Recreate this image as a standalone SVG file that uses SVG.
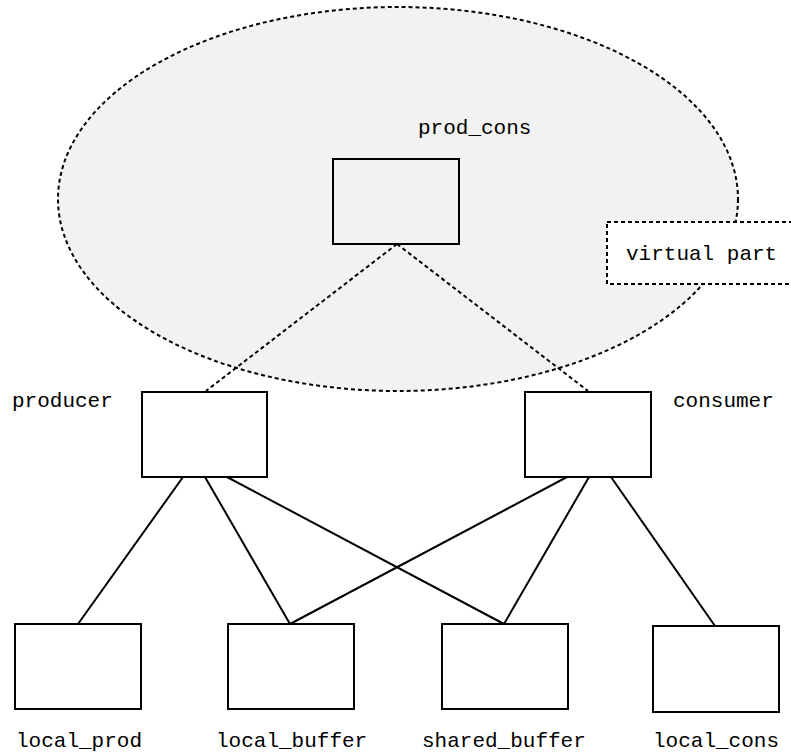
<svg xmlns="http://www.w3.org/2000/svg" width="791" height="754" viewBox="0 0 791 754">
<style>
.box{fill:#fff;stroke:#000;stroke-width:2}
.dash{fill:none;stroke:#000;stroke-width:2;stroke-dasharray:4 3}
.ln{stroke:#000;stroke-width:2;fill:none}
text{font-family:"Liberation Mono","Courier New",monospace;font-size:21px;fill:#000}
</style>
<rect width="791" height="754" fill="#fff"/>
<g id="virtual_region">
<ellipse cx="398" cy="199" rx="340" ry="192" fill="#f2f2f2" stroke="#000" stroke-width="2" stroke-dasharray="4 3"/>
</g>
<g id="connectors">
<line class="dash" x1="397" y1="244" x2="206" y2="391"/>
<line class="dash" x1="397" y1="244" x2="588" y2="391"/>
<line class="ln" x1="183" y1="477" x2="78" y2="624"/>
<line class="ln" x1="205" y1="477" x2="290" y2="624"/>
<line class="ln" x1="227" y1="477" x2="504" y2="624"/>
<line class="ln" x1="567" y1="477" x2="290" y2="624"/>
<line class="ln" x1="589" y1="477" x2="504" y2="624"/>
<line class="ln" x1="611" y1="477" x2="715" y2="626"/>
</g>
<g id="virtual_part">
<rect x="607" y="222" width="200" height="62" fill="#fff" stroke="#000" stroke-width="2" stroke-dasharray="4 3"/>
<text x="626" y="260">virtual part</text>
</g>
<g id="prod_cons">
<rect class="box" x="333" y="159" width="126" height="85" fill="#f2f2f2" style="fill:#f2f2f2"/>
<text x="418" y="134">prod_cons</text>
</g>
<g id="producer">
<rect class="box" x="142" y="392" width="125" height="85"/>
<text x="12" y="407">producer</text>
</g>
<g id="consumer">
<rect class="box" x="525" y="392" width="126" height="85"/>
<text x="673" y="407">consumer</text>
</g>
<g id="local_prod">
<rect class="box" x="15" y="624" width="126" height="85"/>
<text x="16" y="747">local_prod</text>
</g>
<g id="local_buffer">
<rect class="box" x="228" y="624" width="126" height="85"/>
<text x="216" y="747">local_buffer</text>
</g>
<g id="shared_buffer">
<rect class="box" x="442" y="624" width="126" height="85"/>
<text x="422" y="747">shared_buffer</text>
</g>
<g id="local_cons">
<rect class="box" x="653" y="626" width="126" height="86"/>
<text x="653" y="747">local_cons</text>
</g>
</svg>
